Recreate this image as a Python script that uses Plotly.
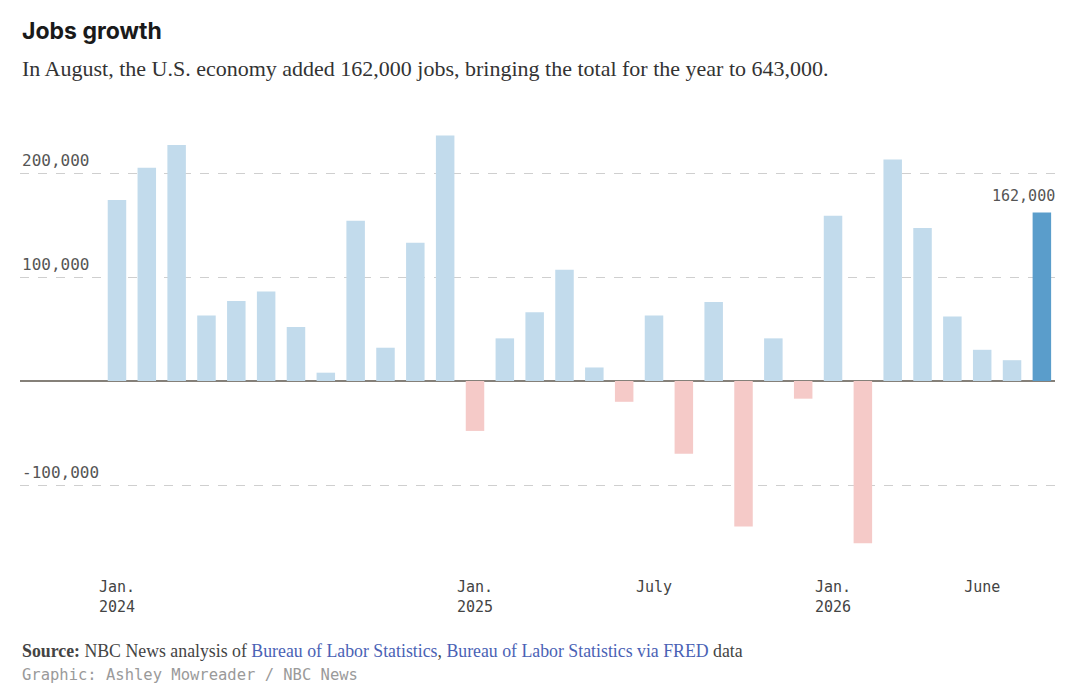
import plotly.graph_objects as go

# monthly job gains, Jan 2024 - Aug 2026
months = [f"{y}-{m:02d}" for y in (2024, 2025, 2026) for m in range(1, 13)][:32]
jobs = [
    174000, 205000, 227000, 63000, 77000, 86000, 52000, 8000,
    154000, 32000, 133000, 236000,
    -48000, 41000, 66000, 107000, 13000, -20000, 63000, -70000,
    76000, -140000, 41000, -17000,
    159000, -156000, 213000, 147000, 62000, 30000, 20000, 162000,
]

xtick_vals = ["2024-01", "2025-01", "2025-07", "2026-01", "2026-06"]
xtick_text = ["Jan.<br>2024", "Jan.<br>2025", "July", "Jan.<br>2026", "June"]
ytick_vals = [-100000, 100000, 200000]

BLUE = "#c2dbec"
RED = "#f5cac8"
HIGHLIGHT = "#5a9dcb"
MONO = "DejaVu Sans Mono"
SERIF = "Liberation Serif"

colors = [RED if v < 0 else BLUE for v in jobs]
colors[-1] = HIGHLIGHT

fig = go.Figure(go.Bar(x=months, y=jobs, marker_color=colors, marker_line_width=0,
                       hoverinfo="x+y"))

# plot area spans screen rows 120..560 (page body adds 8px), zero at 381, 104px per 100k
px_per = 104 / 100000
y_top = (381 - 120) / px_per
y_bot = -(560 - 381) / px_per

fig.update_layout(
    width=1080, height=693,
    margin=dict(l=12, r=33, t=112, b=141),
    paper_bgcolor="white", plot_bgcolor="white",
    bargap=0.38, showlegend=False,
    xaxis=dict(
        type="category", range=[-3.25, 31.44], showgrid=False, zeroline=False,
        tickmode="array", tickvals=xtick_vals, ticktext=xtick_text,
        ticks="", ticklabelstandoff=16,
        tickfont=dict(family=MONO, size=15, color="#444"),
    ),
    yaxis=dict(
        range=[y_bot, y_top], tickmode="array", tickvals=ytick_vals,
        showticklabels=False, showgrid=True, griddash="dash",
        gridcolor="#cfcfcf", gridwidth=1,
        zeroline=True, zerolinecolor="#858079", zerolinewidth=2,
    ),
)

def ppx(p):
    # screen row -> paper y
    return (560 - p) / 440

annotations = []
for v in ytick_vals:
    annotations.append(dict(
        x=0, xref="paper", y=v, yref="y", xanchor="left", yanchor="bottom",
        yshift=1, showarrow=False, text=f"{v:,}",
        font=dict(family=MONO, size=16, color="#555"),
    ))

annotations.append(dict(
    x=months[-1], y=jobs[-1], xref="x", yref="y", xanchor="center", yanchor="bottom",
    xshift=-18, yshift=6, showarrow=False, text=f"{jobs[-1]:,}",
    font=dict(family=MONO, size=15, color="#555"),
))

annotations += [
    dict(x=0, xref="paper", y=ppx(31), yref="paper", xanchor="left", yanchor="middle",
         showarrow=False, text="<b>Jobs growth</b>",
         font=dict(family="Inter", size=23, color="#1a1a1a")),
    dict(x=0, xref="paper", y=ppx(69), yref="paper", xanchor="left", yanchor="middle",
         showarrow=False,
         text="In August, the U.S. economy added 162,000 jobs, bringing the total for the year to 643,000.",
         font=dict(family=SERIF, size=22, color="#333")),
    dict(x=0, xref="paper", y=ppx(651), yref="paper", xanchor="left", yanchor="middle",
         showarrow=False,
         text=("<b>Source:</b> NBC News analysis of "
               "<span style='color:#4a62b5'>Bureau of Labor Statistics</span>, "
               "<span style='color:#4a62b5'>Bureau of Labor Statistics via FRED</span> data"),
         font=dict(family=SERIF, size=17.8, color="#444")),
    dict(x=0, xref="paper", y=ppx(675), yref="paper", xanchor="left", yanchor="middle",
         showarrow=False, text="Graphic: Ashley Mowreader / NBC News",
         font=dict(family=MONO, size=15.5, color="#9a9a9a")),
]

fig.update_layout(annotations=annotations)

fig.write_html("out.html")
